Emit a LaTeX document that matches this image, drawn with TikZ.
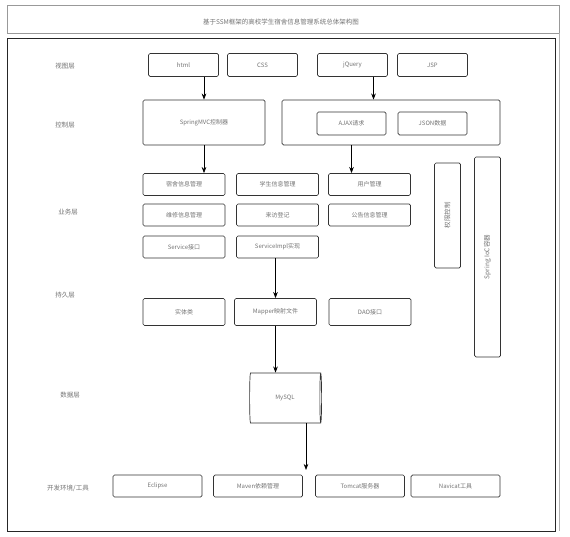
\documentclass[tikz,border=0pt]{standalone}
\usepackage{fontspec}
\setmainfont{Noto Sans CJK SC}
\usetikzlibrary{arrows.meta,shapes.geometric}

\begin{document}
\begin{tikzpicture}[
  x=1pt, y=-1pt,
  box/.style={draw=black!80, rounded corners=1.5pt, inner sep=0pt, minimum width=70,
              minimum height=23, align=center, font=\fontsize{6}{7}\selectfont, text=black!55},
  wbox/.style={box, minimum width=82, minimum height=22},
  vbox/.style={box, minimum width=26},
  lbl/.style={font=\fontsize{6.5}{7}\selectfont, text=black!55},
  >=Stealth, line width=0.7pt
]
  \useasboundingbox (0,0) rectangle (570,537);
  % frame and title
  \draw[black!40, line width=0.5pt] (7,5) rectangle (559,33);
  \draw[black!85] (7,38) rectangle (555,531);
  \draw[black!30, line width=0.5pt] (559,33) -- (559,531);
  \node[lbl] (title) at (281,22) {基于SSM框架的高校学生宿舍信息管理系统总体架构图};

  % layer names
  \node[lbl] (l1) at (65,66)  {视图层};
  \node[lbl] (l2) at (65,125) {控制层};
  \node[lbl] (l3) at (68,212) {业务层};
  \node[lbl] (l4) at (65,295) {持久层};
  \node[lbl] (l5) at (70,395) {数据层};
  \node[lbl] (l6) at (68,488) {开发环境/工具};

  % view
  \node[box] (html)   at (183.5,65) {html};
  \node[box] (css)    at (262.5,65) {CSS};
  \node[box] (jquery) at (352.5,65) {jQuery};
  \node[box] (jsp)    at (432.5,65) {JSP};

  % control
  \node[box, minimum width=122, minimum height=45] (ctl) at (204,122.5) {SpringMVC控制器};
  \node[box, minimum width=218, minimum height=45] (grp) at (391,122.5) {};
  \node[box, minimum width=69] (ajax) at (351.5,123.5) {AJAX请求};
  \node[box, minimum width=69] (json) at (432.5,123.5) {JSON数据};

  % service
  \node[wbox] (b11) at (184,184.5)   {宿舍信息管理};
  \node[wbox] (b12) at (277.5,184.5) {学生信息管理};
  \node[wbox] (b13) at (369.5,184.5) {用户管理};
  \node[wbox] (b21) at (184,215)     {维修信息管理};
  \node[wbox] (b22) at (277.5,215)   {来访登记};
  \node[wbox] (b23) at (369.5,215)   {公告信息管理};
  \node[wbox] (b31) at (184,247)     {Service接口};
  \node[wbox] (b32) at (277.5,247)   {ServiceImpl实现};

  \node[vbox, minimum height=105] (auth) at (447.5,215.5) {};
  \node[lbl, rotate=90] (authtxt) at (auth.center) {权限控制};
  \node[vbox, minimum height=200] (ioc) at (487.5,257) {};
  \node[lbl, rotate=90] (ioctxt) at (ioc.center) {Spring IoC容器};

  % persistence
  \node[wbox, minimum height=27] (ent) at (184,312)   {实体类};
  \node[wbox, minimum height=27] (map) at (275.5,312) {Mapper映射文件};
  \node[wbox, minimum height=27] (dao) at (370,312)   {DAO接口};

  % data
  \node[cylinder, draw=black!80, aspect=0.3, minimum width=50, minimum height=72,
        inner sep=0pt, font=\fontsize{6}{7}\selectfont, text=black!55] (db) at (285,398) {MySQL};

  % tools
  \node[box, minimum width=89, minimum height=22] (ecl) at (157.5,486) {Eclipse};
  \node[box, minimum width=89, minimum height=22] (mvn) at (258,486)   {Maven依赖管理};
  \node[box, minimum width=89, minimum height=22] (tom) at (360,486)   {Tomcat服务器};
  \node[box, minimum width=89, minimum height=22] (nav) at (455.5,486) {Navicat工具};

  \coordinate (toolin) at (306,470);

  \draw[->] (ctl.north |- html.south) -- (ctl.north);
  \draw[->] ([xshift=21]jquery.south) -- ([xshift=21]jquery.south |- grp.north);
  \draw[->] (ctl.south) -- (ctl.south |- b11.north);
  \draw[->] (ajax.south |- grp.south) -- (ajax.south |- b13.north);
  \draw[->] (map.north |- b32.south) -- (map.north);
  \draw[->] (map.south) -- (map.south |- db.north);
  \draw[->] (toolin |- db.south) -- (toolin);
\end{tikzpicture}
\end{document}
